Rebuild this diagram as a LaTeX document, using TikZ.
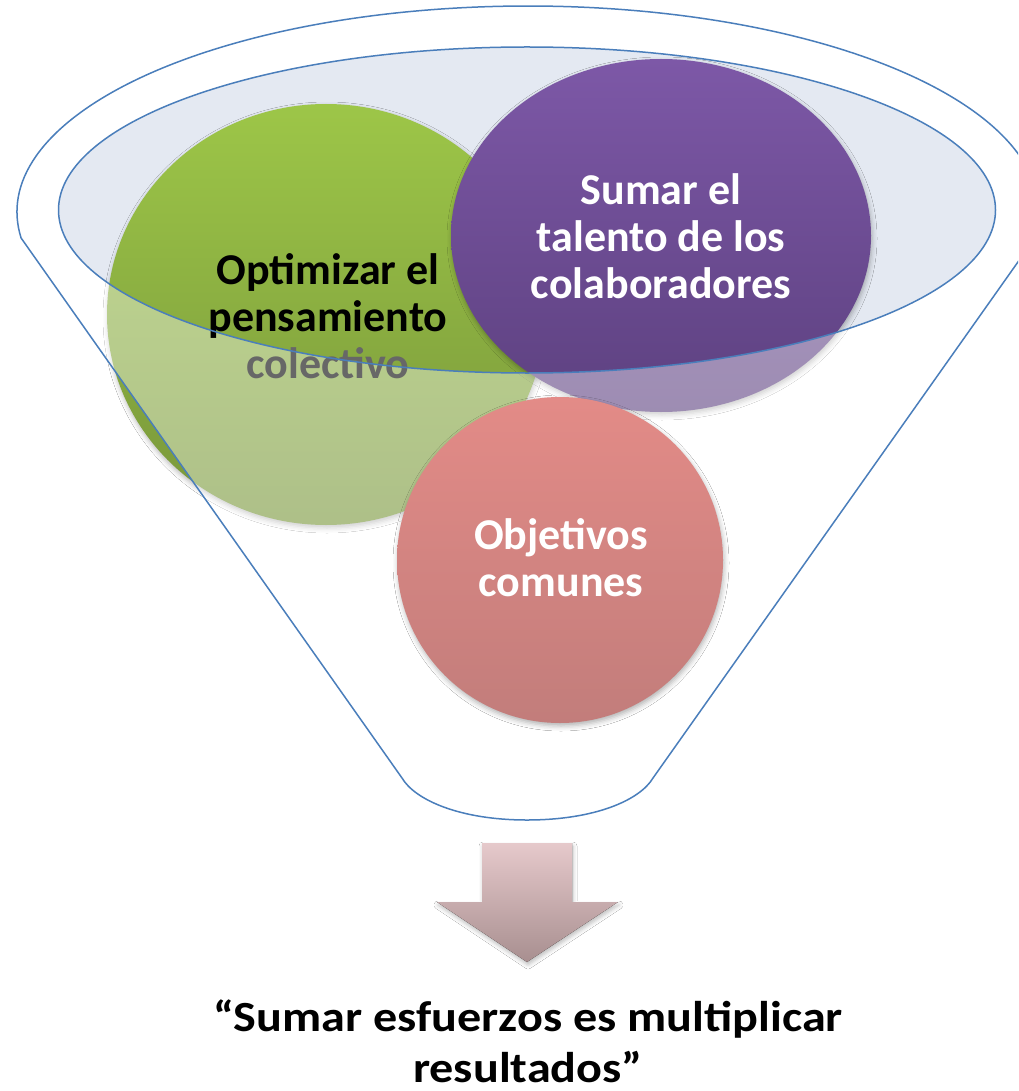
\documentclass[tikz,border=0pt]{standalone}
\usepackage{fontspec}
\setmainfont{Carlito}
\usetikzlibrary{shapes.geometric,shadows.blur}
\definecolor{funnelblue}{HTML}{4A7EBB}
\definecolor{openfill}{HTML}{E4E9F2}
\definecolor{greenTop}{HTML}{9DC648}
\definecolor{greenBot}{HTML}{78963A}
\definecolor{purpTop}{HTML}{7D58A7}
\definecolor{purpBot}{HTML}{5D4180}
\definecolor{redTop}{HTML}{E38B87}
\definecolor{redBot}{HTML}{C27D7B}
\definecolor{arrowTop}{HTML}{E6C9CB}
\definecolor{arrowBot}{HTML}{A88F90}
\definecolor{fadedtext}{HTML}{676767}
\newcommand\funnelpath{(402,778) -- (21.1,238) arc[start angle=172.75, end angle=367.25, x radius=511, y radius=206] -- (653,778) .. controls (640,800) and (595,820) .. (527,820) .. controls (460,820) and (415,800) .. (402,778) -- cycle}
\begin{document}
\begin{tikzpicture}[x=1pt,y=-1pt,
  funnelline/.style={draw=funnelblue, line width=1.5pt},
  bubble/.style={ellipse, inner sep=0pt, draw=none,
    blur shadow={shadow xshift=1pt, shadow yshift=-3pt, shadow blur radius=5pt, shadow opacity=30}},
  bubbletext/.style={font=\fontsize{44}{47}\selectfont\bfseries, align=center, inner sep=0pt},
  quotetext/.style={font=\fontsize{43}{52}\selectfont\bfseries, anchor=base, inner sep=0pt}]
\clip (0,0) rectangle (1018,1091);
\fill[white] (0,0) rectangle (1018,1091);
% funnel opening
\fill[openfill] (527,210) ellipse [x radius=468.5, y radius=163];
% back bubbles
\node[bubble, minimum width=438pt, minimum height=421pt, top color=greenTop, bottom color=greenBot] (green) at (326,314.5) {};
\node[bubble, minimum width=420pt, minimum height=353pt, top color=purpTop, bottom color=purpBot] (purple) at (661,235.5) {};
% front of funnel (semi-transparent)
\fill[white, fill opacity=0.4, even odd rule] \funnelpath (527,210) ellipse [x radius=468.5, y radius=163];
\node[bubbletext] (greentext) at (328,316) {Optimizar el\\pensamiento\\\textcolor{fadedtext}{colectivo}};
\node[bubbletext, text=white] (purpletext) at (661,236) {Sumar el\\talento de los\\colaboradores};
% outlines
\draw[funnelline] (527,210) ellipse [x radius=468.5, y radius=163];
\draw[funnelline] \funnelpath;
% front bubble
\node[bubble, minimum width=326pt, minimum height=326pt, top color=redTop, bottom color=redBot] (red) at (560,560) {};
\node[bubbletext, text=white] (redtext) at (561,558) {Objetivos\\comunes};
% arrow
\fill[top color=arrowTop, bottom color=arrowBot,
  blur shadow={shadow xshift=1pt, shadow yshift=-3pt, shadow blur radius=4pt, shadow opacity=25}]
  (482,843) -- (572,843) -- (572,902) -- (618,902) -- (527,962) -- (437,902) -- (482,902) -- cycle;
% quote
\node[quotetext] (quote1) at (528,1031) {\scalebox{1.12}[1]{“Sumar esfuerzos es multiplicar}};
\node[quotetext] (quote2) at (528,1082) {\scalebox{1.12}[1]{resultados”}};
\end{tikzpicture}
\end{document}
